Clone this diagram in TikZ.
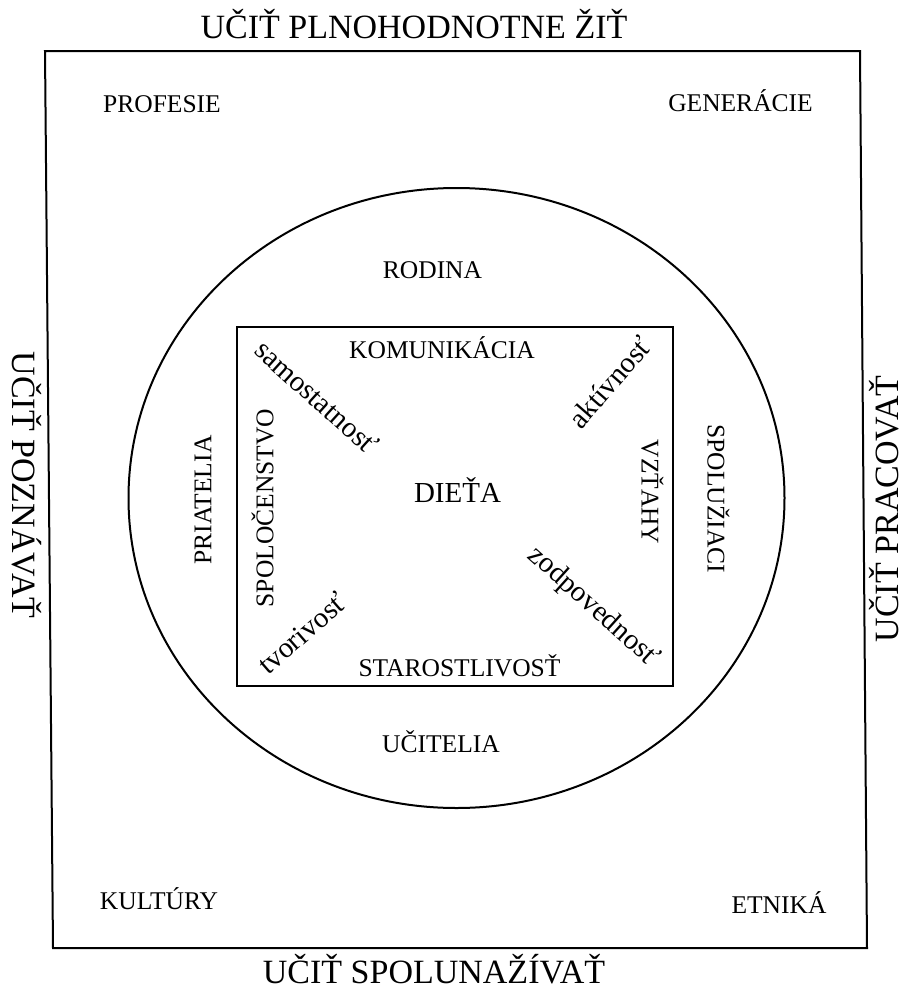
\documentclass[tikz,border=0pt]{standalone}
\usepackage{fontspec}
\setmainfont{Liberation Serif}
\tikzset{
  title/.style={font=\fontsize{34}{40}\selectfont, inner sep=0pt},
  lab/.style={font=\fontsize{25.5}{30}\selectfont, inner sep=0pt},
  mid/.style={font=\fontsize{29}{34}\selectfont, inner sep=0pt},
  diag/.style={font=\fontsize{29}{34}\selectfont, inner sep=0pt, text height=20pt, text depth=0pt},
  captitle/.style={text height=22.4pt, text depth=0pt},
  caplab/.style={text height=16.8pt, text depth=0pt},
  frame/.style={line width=2pt},
}
\begin{document}
\begin{tikzpicture}[x=1pt,y=-1pt]
\useasboundingbox (0,0) rectangle (904,991);
% outer frame, circle, inner rectangle
\draw[frame] (45,51) -- (860,51) -- (867,948) -- (53,948) -- cycle;
\draw[frame] (456.5,498) ellipse [x radius=328, y radius=310];
\draw[frame] (237,327) rectangle (673,686);
% titles around the frame
\node[title, anchor=base] (top) at (414,38) {UČIŤ PLNOHODNOTNE ŽIŤ};
\node[title, anchor=base] (bottom) at (434,983) {UČIŤ SPOLUNAŽÍVAŤ};
\node[title, captitle, rotate=-90] (left) at (24,485) {UČIŤ POZNÁVAŤ};
\node[title, captitle, rotate=90] (right) at (887,509) {UČIŤ PRACOVAŤ};
% corner labels
\node[lab, anchor=base] (profesie) at (162,112) {PROFESIE};
\node[lab, anchor=base] (generacie) at (740.5,111) {GENERÁCIE};
\node[lab, anchor=base] (kultury) at (159,909) {KULTÚRY};
\node[lab, anchor=base] (etnika) at (779,913) {ETNIKÁ};
% circle labels
\node[lab, anchor=base] (rodina) at (432.5,278) {RODINA};
\node[lab, anchor=base] (ucitelia) at (441,752) {UČITELIA};
\node[lab, caplab, rotate=90] (priatelia) at (203,500) {PRIATELIA};
\node[lab, caplab, rotate=-90] (spoluziaci) at (716,499) {SPOLUŽIACI};
% inner rectangle labels
\node[lab, anchor=base] (komunikacia) at (442,358) {KOMUNIKÁCIA};
\node[lab, anchor=base] (starostlivost) at (459.5,676) {STAROSTLIVOSŤ};
\node[lab, caplab, rotate=90] (spolocenstvo) at (265,508) {SPOLOČENSTVO};
\node[lab, caplab, rotate=-90] (vztahy) at (650,492) {VZŤAHY};
\node[mid, anchor=base] (dieta) at (457.5,502) {DIEŤA};
% diagonal words
\node[diag, rotate=-42] (samostatnost) at (317,397) {samostatnosť};
\node[diag, rotate=49] (aktivnost) at (610,382) {aktívnosť};
\node[diag, rotate=-42] (zodpovednost) at (595,605) {zodpovednosť};
\node[diag, rotate=41] (tvorivost) at (302,633) {tvorivosť};
\end{tikzpicture}
\end{document}
